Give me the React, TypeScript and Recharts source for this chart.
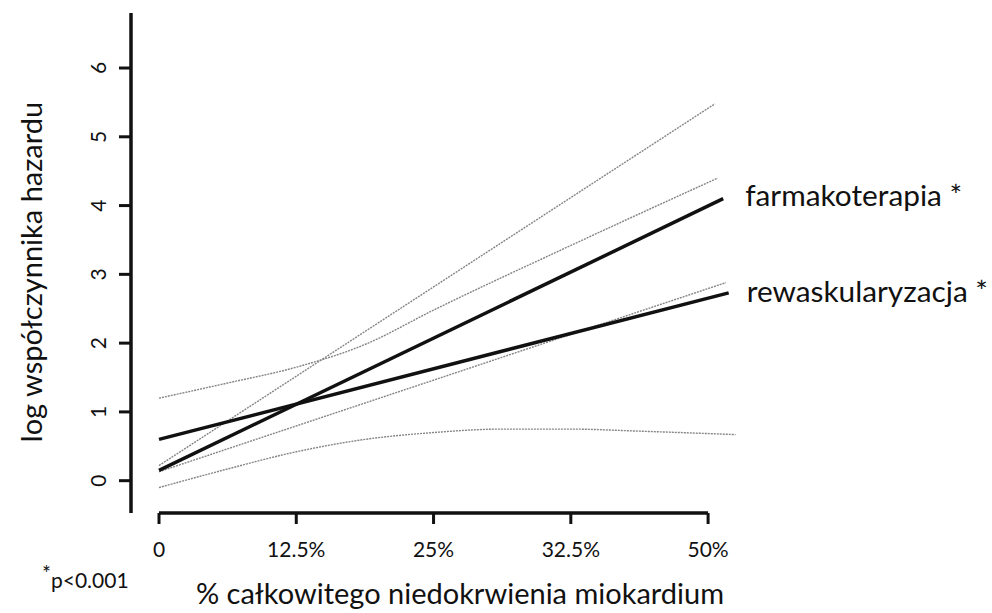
import React from 'react';
import { LineChart, Line, XAxis, YAxis, ReferenceLine } from 'recharts';

// Positions along the x axis are tick slots (0 … 4) that carry the labels below.
const xTickSlots = [0, 1, 2, 3, 4];
const xTickLabels = ['0', '12.5%', '25%', '32.5%', '50%'];
const yTicks = [0, 1, 2, 3, 4, 5, 6];

// Fitted lines
const farmakoterapia = [
  { x: 0, y: 0.15 },
  { x: 4.11, y: 4.1 },
];
const rewaskularyzacja = [
  { x: 0, y: 0.6 },
  { x: 4.15, y: 2.73 },
];

// Confidence bounds
const boundSteep = [
  { x: 0, y: 0.22 },
  { x: 4.05, y: 5.48 },
];
const boundUpperCurve = [
  { x: 0, y: 1.2 },
  { x: 0.5, y: 1.42 },
  { x: 1, y: 1.65 },
  { x: 1.5, y: 1.98 },
  { x: 2, y: 2.48 },
  { x: 3, y: 3.42 },
  { x: 4.07, y: 4.4 },
];
const boundMiddle = [
  { x: 0, y: 0.13 },
  { x: 4.13, y: 2.88 },
];
const boundLowerCurve = [
  { x: 0, y: -0.1 },
  { x: 0.5, y: 0.17 },
  { x: 1, y: 0.42 },
  { x: 1.5, y: 0.6 },
  { x: 2, y: 0.7 },
  { x: 2.5, y: 0.75 },
  { x: 3, y: 0.75 },
  { x: 3.5, y: 0.72 },
  { x: 4.2, y: 0.67 },
];

const X_DOMAIN: [number, number] = [-0.204, 4.247];
const Y_DOMAIN: [number, number] = [-0.47, 6.8];

const FONT = 'Lato, "Open Sans", sans-serif';
const INK = '#111';
const GREY = '#858585';

const YTick = (props: any) => {
  const { x, y, payload } = props;
  const cx = x - 19;
  return (
    <text
      x={cx}
      y={y}
      transform={`rotate(-90 ${cx} ${y})`}
      textAnchor="middle"
      dominantBaseline="central"
      fontFamily={FONT}
      fontSize={21}
      fill={INK}
    >
      {payload.value}
    </text>
  );
};

const XTick = (props: any) => {
  const { x, y, payload } = props;
  return (
    <text
      x={x}
      y={y + 24}
      textAnchor="middle"
      dominantBaseline="central"
      fontFamily={FONT}
      fontSize={21}
      fill={INK}
    >
      {xTickLabels[payload.value] ?? ''}
    </text>
  );
};

const endLabel = (text: string, count: number, dx: number, dy: number) => (props: any) => {
  const { x, y, index } = props;
  if (index !== count - 1) return null;
  return (
    <text
      x={x + dx}
      y={y + dy}
      dominantBaseline="central"
      fontFamily={FONT}
      fontSize={29.8}
      fill={INK}
    >
      {text}
    </text>
  );
};

export default function App() {
  return (
    <div style={{ position: 'absolute', left: 0, top: 0, width: 992, height: 613, background: '#fff' }}>
      <LineChart
        width={992}
        height={613}
        margin={{ top: 13, right: 250, bottom: 0, left: 0 }}
      >
        <XAxis
          type="number"
          dataKey="x"
          domain={X_DOMAIN}
          ticks={xTickSlots}
          allowDataOverflow
          axisLine={false}
          tickLine={{ stroke: INK, strokeWidth: 3 }}
          tickSize={11}
          tickMargin={0}
          tick={<XTick />}
          height={100}
        />
        <YAxis
          type="number"
          dataKey="y"
          domain={Y_DOMAIN}
          ticks={yTicks}
          allowDataOverflow
          axisLine={{ stroke: INK, strokeWidth: 3.5 }}
          tickLine={{ stroke: INK, strokeWidth: 3 }}
          tickSize={12}
          tickMargin={2}
          tick={<YTick />}
          width={131}
        />
        <ReferenceLine
          segment={[
            { x: 0, y: Y_DOMAIN[0] },
            { x: 4, y: Y_DOMAIN[0] },
          ]}
          stroke={INK}
          strokeWidth={3.5}
          ifOverflow="visible"
        />
        <Line data={boundSteep} dataKey="y" type="linear" stroke={GREY} strokeWidth={1.4} strokeDasharray="2 1" dot={false} isAnimationActive={false} />
        <Line data={boundUpperCurve} dataKey="y" type="monotone" stroke={GREY} strokeWidth={1.4} strokeDasharray="2 1" dot={false} isAnimationActive={false} />
        <Line data={boundMiddle} dataKey="y" type="linear" stroke={GREY} strokeWidth={1.4} strokeDasharray="2 1" dot={false} isAnimationActive={false} />
        <Line data={boundLowerCurve} dataKey="y" type="monotone" stroke={GREY} strokeWidth={1.4} strokeDasharray="2 1" dot={false} isAnimationActive={false} />
        <Line
          data={farmakoterapia}
          dataKey="y"
          type="linear"
          stroke={INK}
          strokeWidth={3.5}
          dot={false}
          isAnimationActive={false}
          label={endLabel('farmakoterapia *', farmakoterapia.length, 22, -4)}
        />
        <Line
          data={rewaskularyzacja}
          dataKey="y"
          type="linear"
          stroke={INK}
          strokeWidth={3.5}
          dot={false}
          isAnimationActive={false}
          label={endLabel('rewaskularyzacja *', rewaskularyzacja.length, 18, -2)}
        />
      </LineChart>
      <svg
        width={992}
        height={613}
        style={{ position: 'absolute', left: 0, top: 0, pointerEvents: 'none' }}
      >
        <text
          x={30}
          y={272}
          transform="rotate(-90 30 272)"
          textAnchor="middle"
          dominantBaseline="central"
          fontFamily={FONT}
          fontSize={29}
          fill={INK}
        >
          log współczynnika hazardu
        </text>
        <text
          x={460}
          y={592}
          textAnchor="middle"
          dominantBaseline="central"
          fontFamily={FONT}
          fontSize={29}
          fill={INK}
        >
          % całkowitego niedokrwienia miokardium
        </text>
        <text x={42} y={588} fontFamily={FONT} fontSize={21} fill={INK}>
          <tspan dy={-7}>*</tspan>
          <tspan dy={7}>p&lt;0.001</tspan>
        </text>
      </svg>
    </div>
  );
}
